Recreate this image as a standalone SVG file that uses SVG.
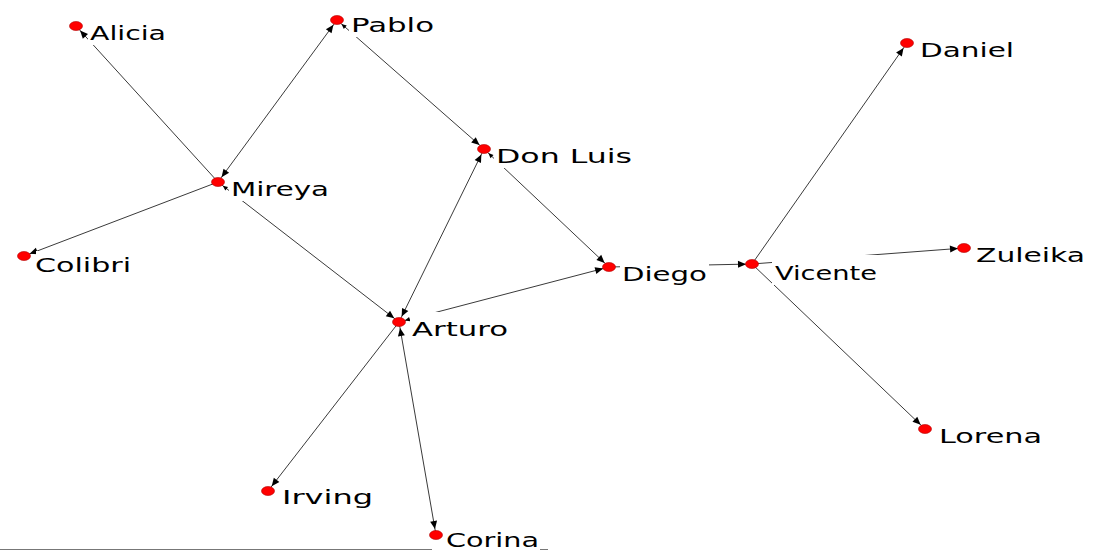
<svg xmlns="http://www.w3.org/2000/svg" width="1104" height="552" viewBox="0 0 1104 552">
<style>
.e{stroke:#3a3a3a;stroke-width:1;fill:none}
.a{marker-end:url(#ah)}
.s{marker-start:url(#ah)}
.ss{marker-start:url(#sh)}
.n rect{fill:#fff}
.n ellipse{fill:#ff0000;stroke:#b00000;stroke-width:0.6}
.n text{font-family:"DejaVu Sans",Verdana,sans-serif;font-size:20px;fill:#000}
</style>
<defs>
<marker id="ah" markerUnits="userSpaceOnUse" markerWidth="24" markerHeight="12" refX="18" refY="6" orient="auto-start-reverse" overflow="visible">
<path d="M12,6 L4,2.5 L4,9.5 z" fill="#000"/>
</marker>
<marker id="sh" markerUnits="userSpaceOnUse" markerWidth="24" markerHeight="12" refX="18" refY="6" orient="auto-start-reverse" overflow="visible">
<path d="M12,6 L7,3.8 L7,8.2 z" fill="#000"/>
</marker>
</defs>
<rect width="1104" height="552" fill="#fff"/>
<g id="connectors">
<line class="e a" x1="218" y1="182" x2="76" y2="26"/>
<line class="e a s" x1="337" y1="20" x2="218" y2="182"/>
<line class="e a ss" x1="337" y1="20" x2="484" y2="149"/>
<line class="e a" x1="218" y1="182" x2="24" y2="256"/>
<line class="e a ss" x1="218" y1="182" x2="399" y2="322"/>
<line class="e a s" x1="399" y1="322" x2="484" y2="149"/>
<line class="e a ss" x1="484" y1="149" x2="609" y2="267"/>
<line class="e a ss" x1="399" y1="322" x2="609" y2="267"/>
<line class="e a" x1="609" y1="267" x2="752" y2="264"/>
<line class="e a" x1="752" y1="264" x2="907" y2="43"/>
<line class="e a" x1="752" y1="264" x2="964" y2="248"/>
<line class="e a" x1="752" y1="264" x2="925" y2="429"/>
<line class="e a" x1="399" y1="322" x2="268" y2="491"/>
<line class="e a s" x1="399" y1="322" x2="436" y2="535"/>
<line x1="0" y1="549.5" x2="432" y2="549.5" stroke="#777" stroke-width="1"/>
<line x1="540" y1="549.5" x2="548" y2="549.5" stroke="#777" stroke-width="1"/>
</g>
<g id="n-alicia" class="n"><rect x="88" y="16" width="80" height="29"/><ellipse cx="76" cy="26" rx="6.5" ry="4.5"/><text x="90" y="40" textLength="76" lengthAdjust="spacingAndGlyphs">Alicia</text></g>
<g id="n-pablo" class="n"><rect x="349" y="8" width="87" height="29"/><ellipse cx="337" cy="20" rx="6.5" ry="4.5"/><text x="351" y="32" textLength="83" lengthAdjust="spacingAndGlyphs">Pablo</text></g>
<g id="n-mireya" class="n"><rect x="229" y="172" width="102" height="29"/><ellipse cx="218" cy="182" rx="6.5" ry="4.5"/><text x="231" y="196" textLength="98" lengthAdjust="spacingAndGlyphs">Mireya</text></g>
<g id="n-colibri" class="n"><rect x="36" y="251" width="97" height="26"/><ellipse cx="24" cy="256" rx="6.5" ry="4.5"/><text x="35" y="272" textLength="96" lengthAdjust="spacingAndGlyphs">Colibri</text></g>
<g id="n-donluis" class="n"><rect x="494" y="139" width="140" height="29"/><ellipse cx="484" cy="149" rx="6.5" ry="4.5"/><text x="496" y="163" textLength="136" lengthAdjust="spacingAndGlyphs">Don Luis</text></g>
<g id="n-arturo" class="n"><rect x="410" y="312" width="100" height="29"/><ellipse cx="399" cy="322" rx="6.5" ry="4.5"/><text x="412" y="336" textLength="96" lengthAdjust="spacingAndGlyphs">Arturo</text></g>
<g id="n-diego" class="n"><rect x="620" y="257" width="89" height="29"/><ellipse cx="609" cy="267" rx="6.5" ry="4.5"/><text x="622" y="281" textLength="85" lengthAdjust="spacingAndGlyphs">Diego</text></g>
<g id="n-vicente" class="n"><rect x="772" y="255" width="107" height="30"/><ellipse cx="752" cy="264" rx="6.5" ry="4.5"/><text x="775" y="280" textLength="102" lengthAdjust="spacingAndGlyphs">Vicente</text></g>
<g id="n-daniel" class="n"><rect x="918" y="33" width="98" height="29"/><ellipse cx="907" cy="43" rx="6.5" ry="4.5"/><text x="920" y="57" textLength="94" lengthAdjust="spacingAndGlyphs">Daniel</text></g>
<g id="n-zuleika" class="n"><rect x="974" y="238" width="113" height="29"/><ellipse cx="964" cy="248" rx="6.5" ry="4.5"/><text x="976" y="262" textLength="109" lengthAdjust="spacingAndGlyphs">Zuleika</text></g>
<g id="n-lorena" class="n"><rect x="937" y="419" width="107" height="29"/><ellipse cx="925" cy="429" rx="6.5" ry="4.5"/><text x="939" y="443" textLength="103" lengthAdjust="spacingAndGlyphs">Lorena</text></g>
<g id="n-irving" class="n"><rect x="280" y="480" width="95" height="29"/><ellipse cx="268" cy="491" rx="6.5" ry="4.5"/><text x="282" y="504" textLength="91" lengthAdjust="spacingAndGlyphs">Irving</text></g>
<g id="n-corina" class="n"><rect x="444" y="524" width="96" height="23"/><ellipse cx="436" cy="535" rx="6.5" ry="4.5"/><text x="446" y="547" textLength="93" lengthAdjust="spacingAndGlyphs">Corina</text></g>
</svg>
